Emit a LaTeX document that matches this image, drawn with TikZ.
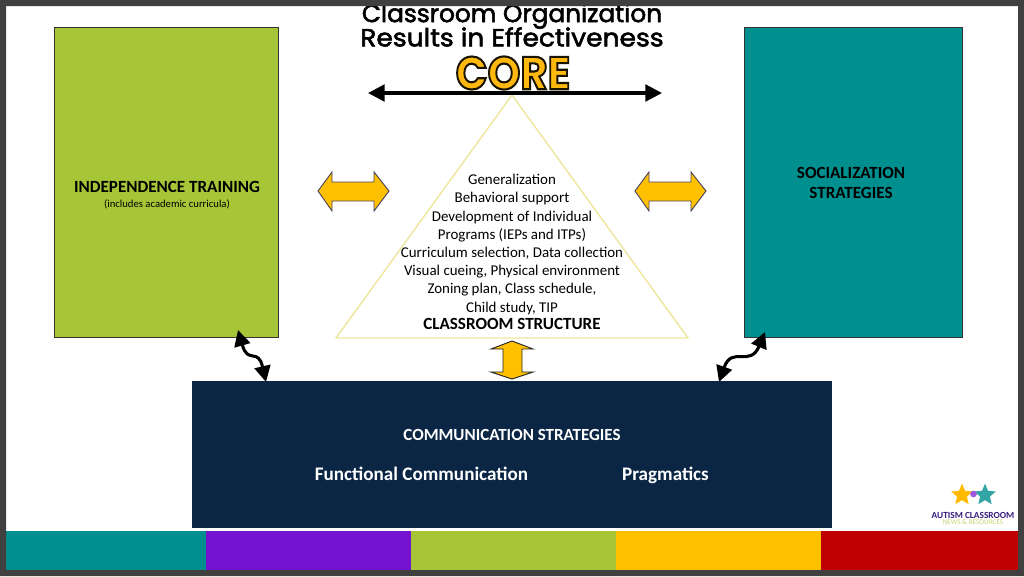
\documentclass[tikz,border=0pt]{standalone}
\usepackage{fontspec}
\setmainfont{Carlito}
\newfontfamily\titlefont{Poppins}
\newfontfamily\titlewide[FakeStretch=1.07]{Poppins}
\usetikzlibrary{shapes.geometric,arrows.meta,calc}
\definecolor{frameg}{HTML}{404040}
\definecolor{tealc}{HTML}{008F8F}
\definecolor{greenc}{HTML}{A6C637}
\definecolor{navyc}{HTML}{0B2545}
\definecolor{purplec}{HTML}{7412D0}
\definecolor{yellowc}{HTML}{FFC000}
\definecolor{redc}{HTML}{C00000}
\definecolor{palec}{HTML}{EFE7A0}
\definecolor{arrowedge}{HTML}{4A4460}
\newcommand{\heavy}[1]{\special{pdf:code q 2 Tr 0.42 w 0 0 0 RG 0 0 0 rg}#1\special{pdf:code Q}}
\tikzset{
  x=0.75pt,y=-0.75pt,
  box/.style={draw=black!80,line width=0.6pt,inner sep=0,outer sep=0,minimum width=#1},
  strip/.style={inner sep=0,outer sep=0,minimum height=29.25pt,anchor=north west,minimum width=#1},
  body/.style={font=\fontsize{11.2pt}{13.65pt}\selectfont,text=black,align=center,inner sep=0},
  bigbold/.style={font=\fontsize{12.8pt}{15pt}\selectfont\bfseries,align=center,inner sep=0},
  whitebold/.style={font=\fontsize{14.35pt}{16pt}\selectfont\bfseries,text=white,inner sep=0,anchor=base},
  yarrow/.style={draw=arrowedge,line width=0.7pt,fill=yellowc,line join=miter},
  curvy/.style={line width=2.3pt,black,{Triangle[width=12pt,length=12pt]}-{Triangle[width=12pt,length=12pt]}},
  titletext/.style={font=\fontsize{18.6pt}{20pt}\selectfont,inner sep=0},
}
\begin{document}
\begin{tikzpicture}
\useasboundingbox (0,0) rectangle (1024,576);
\fill[white] (0,0) rectangle (1024,576);
% title
\node[titletext] (t1) at (512,16) {\titlefont\heavy{Classroom Organization}};
\node[titletext] (t2) at (512,37) {\titlewide\heavy{Results in Effectiveness}};
\node[inner sep=0,xscale=.95,yscale=1.05,transform shape] (core) at (513,73) {\titlefont\bfseries\fontsize{33pt}{33pt}\selectfont\special{pdf:code q 2 Tr 1.5 w 0.1 0.08 0 RG 1 0.72 0.05 rg}CORE\special{pdf:code Q}};
% boxes
\node[box=168pt,minimum height=232pt,fill=greenc] (indep) at (166.6,182.5) {};
\node[box=163.5pt,minimum height=232pt,fill=tealc] (social) at (853.5,182.5) {};
\node[box=480pt,minimum height=110pt,fill=navyc,draw=none] (comm) at (512,454.5) {};
\node[bigbold] (indept) at (167,187) {INDEPENDENCE TRAINING};
\node[font=\fontsize{8pt}{9pt}\selectfont,inner sep=0] (indeps) at (167,204) {(includes academic curricula)};
\node[bigbold,text width=140pt,font=\fontsize{12.8pt}{15pt}\selectfont\bfseries] (socialt) at (851,183) {SOCIALIZATION\\STRATEGIES};
\node[bigbold,text=white,font=\fontsize{12.75pt}{14pt}\selectfont\bfseries] (commt) at (512,435) {COMMUNICATION STRATEGIES};
\node[whitebold] (fc) at (421.5,480) {Functional Communication};
\node[whitebold] (prag) at (665.5,480) {Pragmatics};
% triangle
\fill[white,draw=palec,line width=1.1pt,line join=miter] (512,95) coordinate (apex) -- (688,338) coordinate (br) -- (336,338) coordinate (bl) -- cycle;
\node[body] (gen) at (512,244.5) {Generalization\\Behavioral support\\Development of Individual\\Programs (IEPs and ITPs)\\Curriculum selection, Data collection\\Visual cueing, Physical environment\\Zoning plan, Class schedule,\\Child study, TIP};
\node[bigbold] (cs) at (512,324) {CLASSROOM STRUCTURE};
% top arrow
\coordinate (al) at (368,93); \coordinate (ar) at (662,93);
\draw[line width=2.4pt,black,{Triangle[width=12.5pt,length=12.5pt]}-{Triangle[width=12.5pt,length=12.5pt]}] (al) -- (ar);
% yellow arrows
\draw[yarrow] (318,191) -- (332,172) -- (332,182) -- (374,182) -- (374,172) -- (389,191) -- (374,211) -- (374,201) -- (332,201) -- (332,211) -- cycle;
\draw[yarrow] (635,191) -- (649,172) -- (649,182) -- (691,182) -- (691,172) -- (706,191) -- (691,211) -- (691,201) -- (649,201) -- (649,211) -- cycle;
\draw[yarrow,draw=black!85] (512,341) -- (533,349) -- (522,349) -- (522,372) -- (533,372) -- (512,379) -- (491,372) -- (503,372) -- (503,349) -- (491,349) -- cycle;
% curvy
\coordinate (c1a) at (238,330); \coordinate (c1b) at (266,382);
\draw[curvy] (c1a) .. controls (248,365) and (258,347) .. (c1b);
\coordinate (c2a) at (765,332); \coordinate (c2b) at (719,382);
\draw[curvy] (c2a) .. controls (750,368) and (732,345) .. (c2b);
% strip
\node[strip=150pt,fill=tealc] (s1) at (6,531) {};
\node[strip=153.75pt,fill=purplec] (s2) at (206,531) {};
\node[strip=153.75pt,fill=greenc] (s3) at (411,531) {};
\node[strip=153.75pt,fill=yellowc] (s4) at (616,531) {};
\node[strip=147.75pt,fill=redc] (s5) at (821,531) {};
% logo
\node[star,star points=5,star point ratio=2.2,fill=yellowc!90!orange,inner sep=0,minimum size=17pt] (l1) at (962,495) {};
\node[star,star points=5,star point ratio=2.2,fill=tealc!80!white,inner sep=0,minimum size=17pt] (l2) at (985,495) {};
\node[circle,fill=purplec!70!white,inner sep=0,minimum size=5pt] (l3) at (973.5,494) {};
\node[font=\fontsize{7pt}{7pt}\selectfont\bfseries,text=purplec!40!navyc,inner sep=0] (l4) at (973,515) {AUTISM CLASSROOM};
\node[font=\fontsize{5.4pt}{6pt}\selectfont,text=greenc!70!white,inner sep=0] (l5) at (973,522.5) {NEWS \& RESOURCES};
% frame
\fill[frameg,even odd rule] (0,0) rectangle (1024,576) (6,6) rectangle (1018,570);
\end{tikzpicture}
\end{document}
